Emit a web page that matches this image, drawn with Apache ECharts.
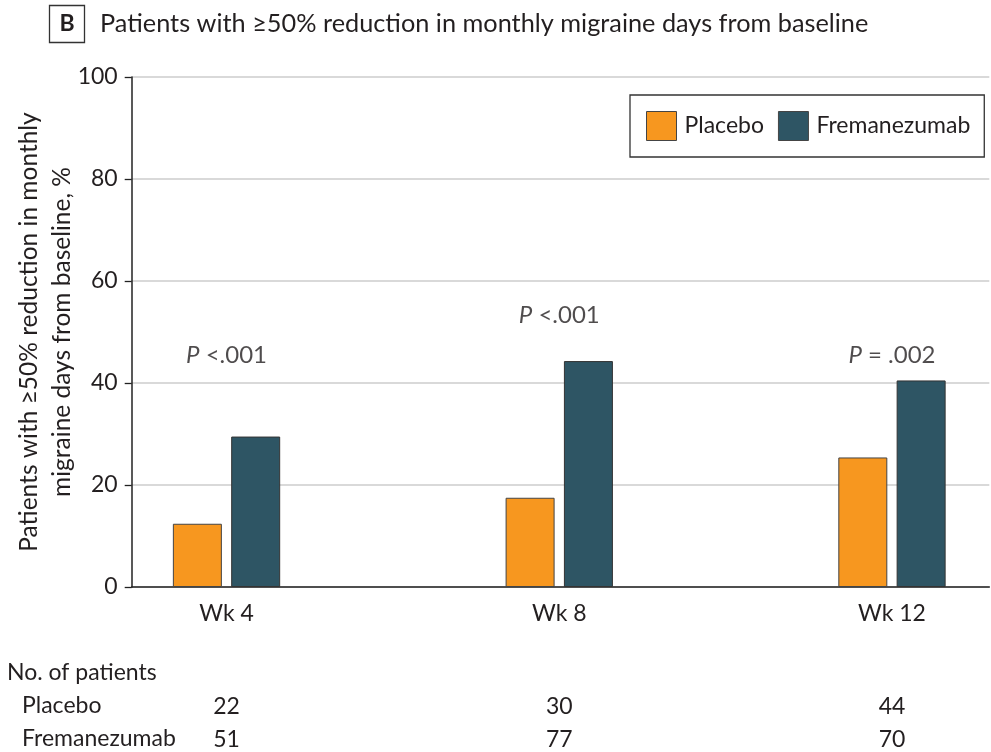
<!DOCTYPE html>
<html><head><meta charset="utf-8">
<script src="https://cdn.jsdelivr.net/npm/echarts@6/dist/echarts.min.js"></script>
<style>html,body{margin:0;padding:0;background:#fff}#c{width:991px;height:752px}</style>
</head><body><div id="c"></div>
<script>
const categories = ['Wk 4', 'Wk 8', 'Wk 12'];
const weekPos = [4, 8, 12];
const seriesNames = ['Placebo', 'Fremanezumab'];
const placebo = [12.4, 17.5, 25.4];
const fremanezumab = [29.5, 44.3, 40.5];
const pValues = ['<.001', '<.001', '= .002'];
const pLabelHeight = [45.4, 53.3, 45.4];
const nPlacebo = [22, 30, 44];
const nFremanezumab = [51, 77, 70];
const yTicks = [0, 20, 40, 60, 80, 100];

const FONT = 'Lato';
const TXT = '#231f20';
const colors = ['#F7971F', '#2E5564'];

const chart = echarts.init(document.getElementById('c'), null, {renderer: 'canvas'});

const xBase = {type: 'value', min: 2.86, max: 13.17, gridIndex: 0, splitLine: {show: false}, axisTick: {show: false}};
const label = (fmt, extra) => Object.assign({customValues: weekPos, formatter: fmt, fontFamily: FONT, fontSize: 23, color: TXT, margin: 15}, extra || {});

const option = {
  animation: false,
  backgroundColor: '#fff',
  textStyle: {fontFamily: FONT},
  grid: {left: 131.7, right: 1.7, top: 77, bottom: 165, containLabel: false, outerBoundsMode: 'none'},
  legend: {
    data: seriesNames,
    left: 630, top: 95,
    padding: [16, 14, 16, 16],
    borderColor: '#333', borderWidth: 1.3,
    itemWidth: 30, itemHeight: 29, itemGap: 14,
    icon: 'rect',
    itemStyle: {borderColor: '#444', borderWidth: 1},
    textStyle: {fontFamily: FONT, fontSize: 23, color: TXT, padding: [0, 0, 0, 3]}
  },
  xAxis: [
    Object.assign({}, xBase, {
      axisLine: {show: true, lineStyle: {color: '#222', width: 1.5}},
      axisLabel: label(v => categories[weekPos.indexOf(v)])
    }),
    Object.assign({}, xBase, {
      position: 'bottom', offset: 93,
      axisLine: {show: false},
      axisLabel: label(v => String(nPlacebo[weekPos.indexOf(v)]))
    }),
    Object.assign({}, xBase, {
      position: 'bottom', offset: 126,
      axisLine: {show: false},
      axisLabel: label(v => String(nFremanezumab[weekPos.indexOf(v)]))
    })
  ],
  yAxis: {
    type: 'value', min: 0, max: 100, interval: 20,
    axisLine: {show: true, lineStyle: {color: '#222', width: 1.5}},
    axisTick: {show: true, length: 7, lineStyle: {color: '#222', width: 1.3}},
    axisLabel: {fontFamily: FONT, fontSize: 23, color: TXT, margin: 14, customValues: yTicks},
    splitLine: {show: true, lineStyle: {color: '#d9d9d9', width: 2}},
    name: 'Patients with \u226550% reduction in monthly\nmigraine days from baseline, %',
    nameLocation: 'middle', nameRotate: 90, nameGap: 53, nameMoveOverlap: false,
    nameTextStyle: {fontFamily: FONT, fontSize: 24.5, color: TXT, lineHeight: 33, align: 'center'}
  },
  series: [
    {
      name: seriesNames[0], type: 'bar', xAxisIndex: 0,
      data: weekPos.map((x, i) => [x, placebo[i]]),
      barWidth: 49, barGap: '19%',
      itemStyle: {color: colors[0], borderColor: '#444', borderWidth: 1}
    },
    {
      name: seriesNames[1], type: 'bar', xAxisIndex: 0,
      data: weekPos.map((x, i) => [x, fremanezumab[i]]),
      barWidth: 49, barGap: '19%',
      itemStyle: {color: colors[1], borderColor: '#333', borderWidth: 1}
    },
    {
      name: 'P', type: 'scatter', xAxisIndex: 0, symbolSize: 0, silent: true,
      data: weekPos.map((x, i) => [x, pLabelHeight[i]]),
      label: {
        show: true, position: 'inside',
        formatter: p => '{i|P} ' + pValues[p.dataIndex],
        fontFamily: FONT, fontSize: 24, color: TXT,
        rich: {i: {fontStyle: 'italic', fontFamily: FONT, fontSize: 24, color: TXT}}
      }
    }
  ],
  graphic: [
    {type: 'rect', shape: {x: 49.5, y: 5.5, width: 35, height: 37}, style: {fill: '#fff', stroke: '#333', lineWidth: 1.3}},
    {type: 'text', x: 67, y: 24, style: {text: 'B', font: 'bold 23px ' + FONT, fill: TXT, textAlign: 'center', textVerticalAlign: 'middle'}},
    {type: 'text', x: 100, y: 24, style: {text: 'Patients with \u226550% reduction in monthly migraine days from baseline', font: '25.3px ' + FONT, fill: TXT, textVerticalAlign: 'middle'}},
    {type: 'text', x: 7, y: 673, style: {text: 'No. of patients', font: '23px ' + FONT, fill: TXT, textVerticalAlign: 'middle'}},
    {type: 'text', x: 22, y: 706, style: {text: seriesNames[0], font: '23px ' + FONT, fill: TXT, textVerticalAlign: 'middle'}},
    {type: 'text', x: 22, y: 739, style: {text: seriesNames[1], font: '23px ' + FONT, fill: TXT, textVerticalAlign: 'middle'}}
  ]
};
chart.setOption(option);
</script></body></html>
